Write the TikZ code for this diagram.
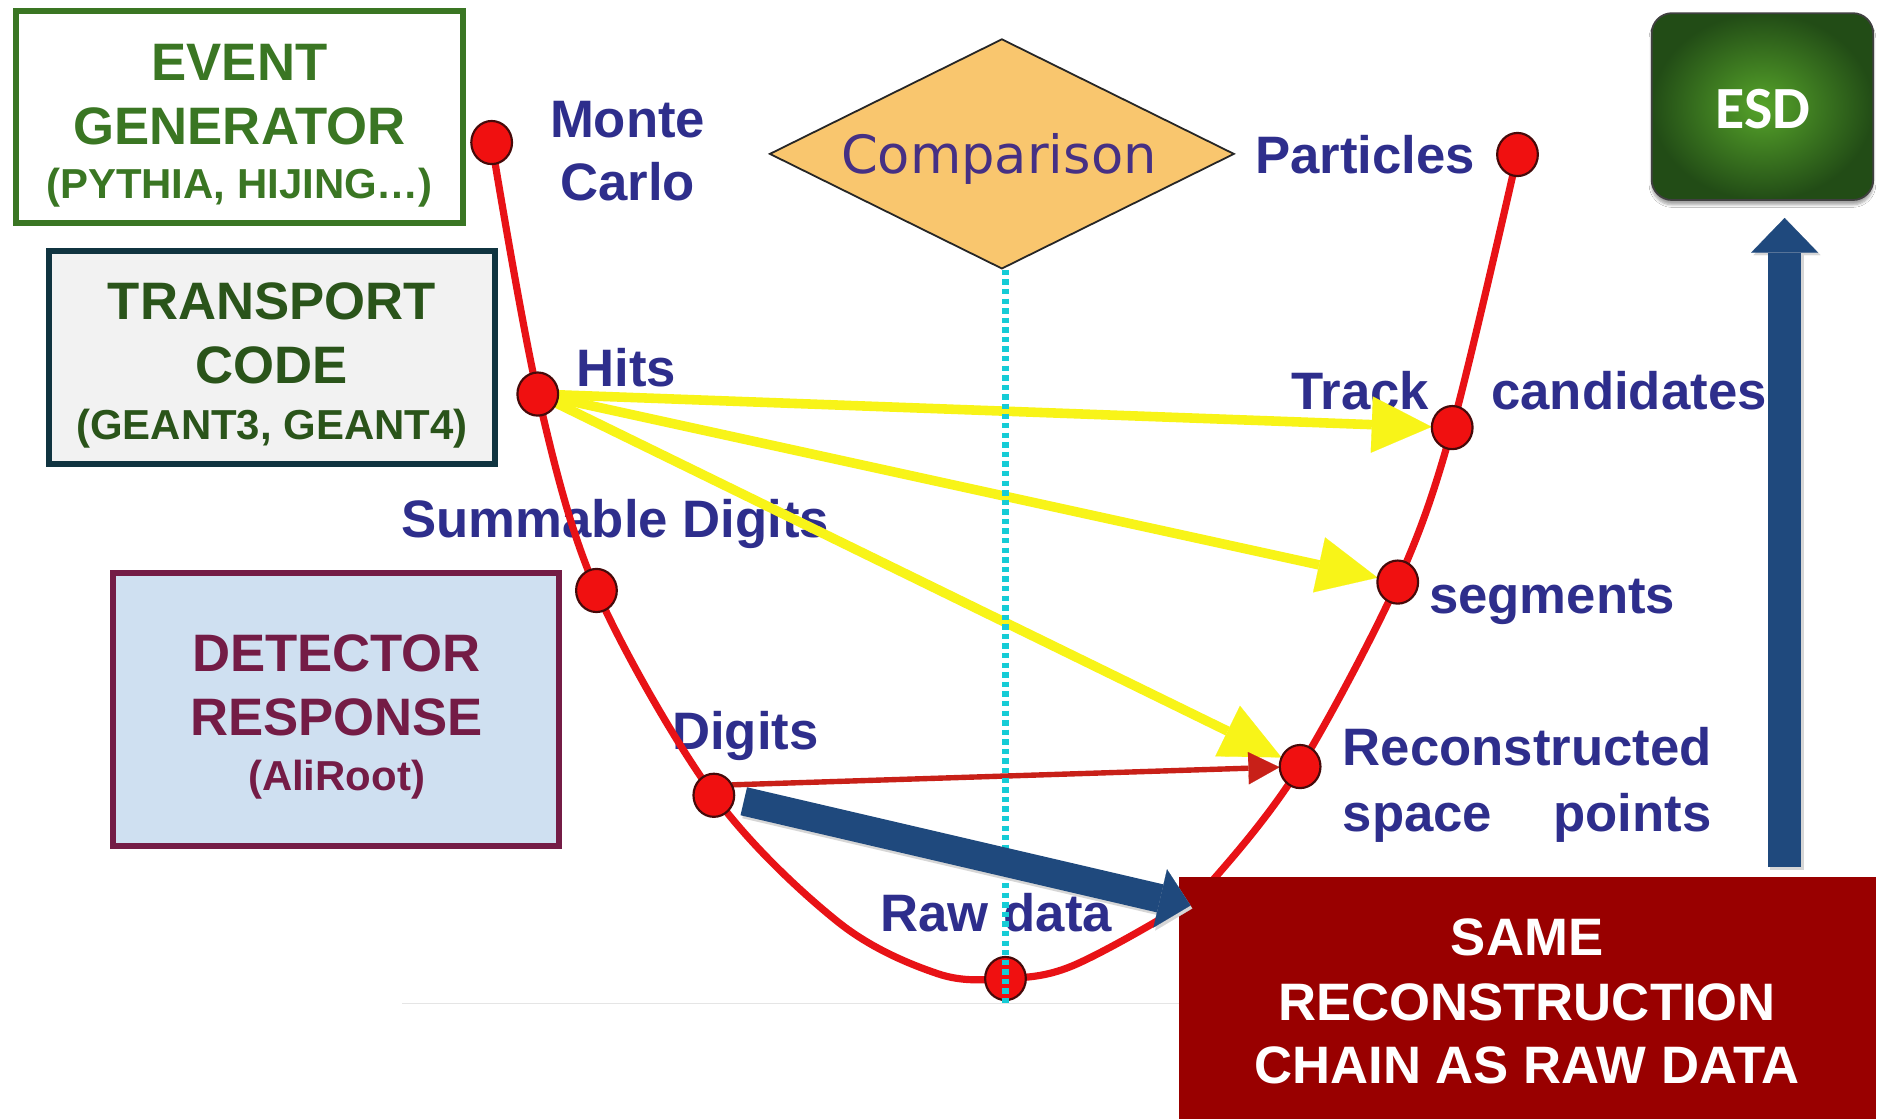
\documentclass[tikz,border=0pt]{standalone}
\usepackage{fontspec}
\setmainfont{Liberation Sans}
\newfontfamily\cmpfont{DejaVu Sans}
\newfontfamily\esdfont{Carlito}
\usetikzlibrary{arrows.meta,shapes.geometric,shadows.blur,calc}

\definecolor{evgreen}{RGB}{58,118,35}
\definecolor{trborder}{RGB}{16,52,64}
\definecolor{trfill}{RGB}{242,242,242}
\definecolor{trtext}{RGB}{42,84,26}
\definecolor{drborder}{RGB}{116,28,70}
\definecolor{drfill}{RGB}{207,224,241}
\definecolor{lblue}{RGB}{46,46,140}
\definecolor{cmptext}{RGB}{70,48,132}
\definecolor{cmpfill}{RGB}{249,198,110}
\definecolor{curvered}{RGB}{232,18,22}
\definecolor{dotred}{RGB}{240,16,16}
\definecolor{dotedge}{RGB}{70,10,10}
\definecolor{arrowred}{RGB}{200,32,24}
\definecolor{hlyellow}{RGB}{248,244,24}
\definecolor{dashcyan}{RGB}{22,204,214}
\definecolor{navy}{RGB}{31,73,125}
\definecolor{samered}{RGB}{153,0,0}
\definecolor{esdin}{RGB}{86,164,42}
\definecolor{esdout}{RGB}{34,76,22}
\definecolor{esdedge}{RGB}{64,64,64}

\begin{document}
\begin{tikzpicture}[x=1pt,y=-1pt,
  dotshape/.style={ellipse, minimum width=34pt, minimum height=36pt, inner sep=0pt},
  stagedot/.style={dotshape, draw=dotedge, fill=dotred, line width=1.8pt},
  curvestyle/.style={draw=curvered, line width=6pt, line join=round},
  yarrow/.style={color=hlyellow, line width=8pt,
    -{Triangle[length=50pt,width=47pt,line width=0.1pt]}},
  rarrow/.style={color=arrowred, line width=4.5pt,
    -{Triangle[length=26pt,width=27pt,line width=0.1pt]}},
  cyandash/.style={draw=dashcyan, line width=6.5pt, dash pattern=on 4.5pt off 3.5pt},
  navyarrow/.style={color=navy, line width=#1, line cap=butt},
  navyshade/.style={color=black!16, line width=#1, line cap=butt},
  lbl/.style={text=lblue, font=\fontsize{44}{48}\selectfont\bfseries,
    inner sep=0pt, anchor=base west},
  lblc/.style={lbl, anchor=base},
  boxline/.style={font=\fontsize{44}{48}\selectfont\bfseries, inner sep=0pt, anchor=base},
  boxsub/.style={font=\fontsize{35}{40}\selectfont\bfseries, inner sep=0pt, anchor=base},
  panel/.style={rectangle, line width=5pt, inner sep=0pt}
]
\fill[white] (0,0) rectangle (1568,934);
\useasboundingbox (0,0) rectangle (1568,934);

% lower edge of the plot area
\coordinate (plotL) at (336,838);
\coordinate (plotR) at (984,838);
\draw[black!10, line width=1pt] (plotL) -- (plotR);

% ---- stage labels ----
\node[lblc] (tMonte) at (524,114.5) {Monte};
\node[lblc] (tCarlo) at (524,167) {Carlo};
\node[lbl] (tPart) at (1048,144.5) {Particles};
\node[lbl] (tHits) at (481,323) {Hits};
\node[lbl] (tTrack) at (1078,342) {Track\hspace{52pt}candidates};
\node[lbl] (tSumm) at (335,448.5) {Summable Digits};
\node[lbl] (tSeg) at (1193,512) {segments};
\node[lbl] (tDig) at (561,625.5) {Digits};
\node[lbl] (tReco) at (1121,639) {Reconstructed};
\node[lbl] (tSpace) at (1121,694) {space\hspace{51pt}points};
\node[lbl] (tRaw) at (735,778) {Raw data};

% ---- stage positions (outline only, used for connector ends) ----
\node[dotshape] (mc)   at (410.5,119) {};
\node[dotshape] (hits) at (449,329)   {};
\node[dotshape] (sd)   at (498,493)   {};
\node[dotshape] (dg)   at (596,664)   {};
\node[dotshape] (raw)  at (839.5,817) {};
\node[dotshape] (rc)   at (1085.5,640) {};
\node[dotshape] (seg)  at (1167,486)  {};
\node[dotshape] (trk)  at (1212.5,357) {};
\node[dotshape] (prt)  at (1267,129)  {};

% points shaping the bottom of the U
\coordinate (b1) at (700,770);
\coordinate (b2) at (783,813);
\coordinate (b3) at (894,807);
\coordinate (b4) at (981,760);
\coordinate (b5) at (1016,731);

% ---- the chain curve and the correspondence arrows ----
\draw[curvestyle] plot[smooth, tension=0.55] coordinates
  {(mc.center) (hits.center) (sd.center) (dg.center) (b1) (b2) (raw.center)
   (b3) (b4) (b5) (rc.center) (seg.center) (trk.center) (prt.center)};
\draw[yarrow] (hits.center) -- (trk);
\draw[yarrow] (hits.center) -- (seg);
\draw[yarrow] (hits.center) -- (rc);
\draw[rarrow] (dg.30) -- (rc);

% ---- red markers on top ----
\foreach \p in {mc,hits,sd,dg,raw,rc,seg,trk,prt}
  \node[stagedot] (m-\p) at (\p.center) {};

% ---- comparison diamond ----
\node[diamond, draw=black!85, fill=cmpfill, line width=1.5pt, inner sep=0pt,
      minimum width=388pt, minimum height=192pt] (cmp) at (836.5,128.5) {};
\node[text=cmptext, font=\cmpfont\fontsize{44}{48}\selectfont, inner sep=0pt,
      anchor=base] (cmpt) at (834,144.5) {Comparison};
\coordinate (cyanend) at (839.5,839);
\draw[cyandash] (cmp.south -| raw.center) -- (cyanend);

% ---- simulation boxes ----
\node[panel, draw=evgreen, fill=white, minimum width=373pt, minimum height=177pt]
  (evbox) at (200,98) {};
\node[boxline, text=evgreen] (ev1) at (200,67.5) {EVENT};
\node[boxline, text=evgreen] (ev2) at (200,121) {GENERATOR};
\node[boxsub, text=evgreen] (ev3) at (200,165.5) {(PYTHIA, HIJING…)};

\node[panel, draw=trborder, fill=trfill, minimum width=373pt, minimum height=178pt]
  (trbox) at (227,298.5) {};
\node[boxline, text=trtext] (tr1) at (227,267) {TRANSPORT};
\node[boxline, text=trtext] (tr2) at (227,320) {CODE};
\node[boxsub, text=trtext] (tr3) at (227,367) {(GEANT3, GEANT4)};

\node[panel, draw=drborder, fill=drfill, minimum width=372pt, minimum height=228pt]
  (drbox) at (280.5,592.5) {};
\node[boxline, text=drborder] (dr1) at (281,561) {DETECTOR};
\node[boxline, text=drborder] (dr2) at (281,614) {RESPONSE};
\node[boxsub, text=drborder] (dr3) at (281,660) {(AliRoot)};

% ---- reconstruction box ----
\node[rectangle, fill=samered, inner sep=0pt, minimum width=582pt, minimum height=208pt]
  (same) at (1275,836) {};
\node[boxline, text=white] (sa1) at (1275,798) {SAME};
\node[boxline, text=white] (sa2) at (1275,852) {RECONSTRUCTION};
\node[boxline, text=white] (sa3) at (1275,905) {CHAIN AS RAW DATA};

% ---- ESD box ----
\node[rectangle, rounded corners=17pt, draw=esdedge, line width=1.5pt,
      shading=radial, inner color=esdin, outer color=esdout,
      minimum width=185pt, minimum height=156pt, inner sep=0pt,
      blur shadow={shadow xshift=0pt, shadow yshift=-4pt, shadow blur steps=6, shadow opacity=35}]
  (esd) at (1471.5,89) {};
\node[text=white, font=\esdfont\bfseries\fontsize{50}{54}\selectfont, inner sep=0pt,
      anchor=base] (esdt) at (1472,107) {ESD};

% ---- flow arrows ----
\coordinate (bstart) at (621,669);
\coordinate (btip) at (994,756);
\draw[navyshade=24pt, -{Triangle[length=26pt,width=50pt,line width=0.1pt]}]
  ([shift={(1.5pt,-2.5pt)}]bstart) -- ([shift={(1.5pt,-2.5pt)}]btip);
\draw[navyarrow=24pt, -{Triangle[length=26pt,width=50pt,line width=0.1pt]}]
  (bstart) -- (btip);

\coordinate (vstart) at (1490,724);
\coordinate (vtip) at (1490,182);
\draw[navyshade=28pt, -{Triangle[length=29pt,width=56pt,line width=0.1pt]}]
  ([shift={(2pt,-2pt)}]vstart) -- ([shift={(2pt,-2pt)}]vtip);
\draw[navyarrow=28pt, -{Triangle[length=29pt,width=56pt,line width=0.1pt]}]
  (vstart) -- (vtip);
\end{tikzpicture}
\end{document}
